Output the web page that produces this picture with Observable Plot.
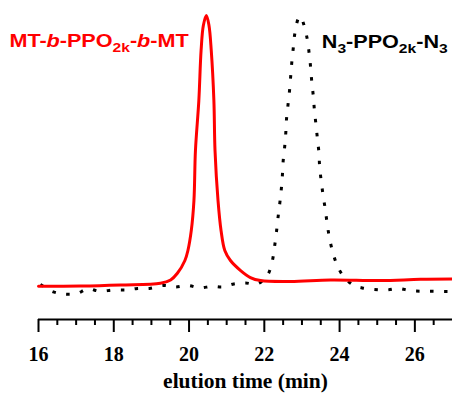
<!DOCTYPE html>
<html>
<head>
<meta charset="utf-8">
<script src="https://cdn.jsdelivr.net/npm/d3@7"></script>
<script src="https://cdn.jsdelivr.net/npm/@observablehq/plot@0.6"></script>
<style>
  html, body { margin: 0; padding: 0; background: #fff; }
</style>
</head>
<body>
<div id="chart"></div>
<script>
// elution time (min) and normalized detector response (0 = axis line, 100 = peak)
const redTime = [16.00, 17.12, 18.18, 19.24, 19.51, 19.69, 19.89, 19.97, 20.06, 20.13, 20.17, 20.26, 20.32, 20.38, 20.46, 20.53, 20.59, 20.66, 20.69, 20.77, 20.85, 20.95, 21.10, 21.37, 21.63, 21.90, 22.70, 23.76, 25.09, 26.15, 27.00];
const redSignal = [10.9, 11.0, 11.35, 11.9, 13.0, 15.2, 19.4, 22.7, 29.3, 39.1, 55.6, 72.0, 88.5, 96.7, 100, 96.7, 88.5, 72.0, 55.6, 39.1, 29.3, 22.7, 19.4, 16.1, 13.8, 12.8, 12.5, 13.0, 12.8, 13.2, 13.3];

const blackTime = [16.05, 16.37, 16.67, 17.03, 17.30, 17.63, 17.99, 18.36, 18.63, 18.95, 19.33, 19.63, 19.97, 20.28, 20.61, 20.90, 21.19, 21.50, 21.81, 22.08, 22.21, 22.27, 22.32, 22.36, 22.41, 22.45, 22.48, 22.50, 22.54, 22.57, 22.59, 22.63, 22.67, 22.70, 22.73, 22.77, 22.81, 22.90, 22.96, 23.05, 23.14, 23.19, 23.23, 23.26, 23.30, 23.33, 23.37, 23.41, 23.45, 23.47, 23.51, 23.56, 23.62, 23.67, 23.73, 23.82, 23.95, 24.14, 24.40, 24.64, 24.93, 25.25, 25.57, 25.88, 26.18, 26.47, 26.79, 27.00];
const blackSignal = [11.5, 9.2, 8.4, 8.55, 10.1, 9.3, 9.7, 9.7, 10.2, 10.2, 11.2, 10.7, 11.2, 10.4, 10.9, 10.7, 11.7, 12.0, 11.7, 14.5, 19.1, 23.8, 28.5, 33.1, 38.1, 42.7, 47.4, 52.0, 56.7, 61.3, 66.0, 70.7, 75.3, 79.9, 84.6, 89.4, 94.0, 98.9, 99.7, 97.0, 92.3, 87.7, 83.0, 78.3, 73.7, 69.0, 64.4, 59.6, 55.0, 50.3, 45.7, 41.0, 36.2, 31.5, 26.9, 22.1, 17.4, 13.6, 11.1, 10.3, 9.9, 9.7, 10.2, 9.5, 9.3, 9.3, 9.2, 9.2];

const majorTicks = [16, 18, 20, 22, 24, 26];
const minorTicks = [16.5, 17, 17.5, 18.5, 19, 19.5, 20.5, 21, 21.5, 22.5, 23, 23.5, 24.5, 25, 25.5, 26.5];
const xLabel = "elution time (min)";

const redData = redTime.map((t, i) => ({t, s: redSignal[i]}));
const blackData = blackTime.map((t, i) => ({t, s: blackSignal[i]}));

const plot = Plot.plot({
  width: 452,
  height: 394,
  marginLeft: 38,
  marginRight: 0,
  marginTop: 15,
  marginBottom: 75,
  x: {domain: [16, 27]},
  y: {domain: [0, 100], axis: null},
  marks: [
    Plot.ruleY([0], {strokeWidth: 2, stroke: "#000"}),
    Plot.axisX({ticks: minorTicks, tickSize: 6, text: null, label: null, strokeWidth: 2}),
    Plot.axisX({ticks: majorTicks, tickSize: 13, tickPadding: 14, strokeWidth: 2, label: null,
      tickFormat: d => String(d), fontSize: 20, fontWeight: "bold", fontFamily: "Liberation Serif, Times New Roman, serif"}),
    Plot.text([xLabel], {frameAnchor: "bottom", dy: 68, lineAnchor: "bottom", text: d => d,
      fontSize: 21.5, fontWeight: "bold", fontFamily: "Liberation Serif, Times New Roman, serif", fill: "#000"}),
    Plot.line(blackData, {x: "t", y: "s", stroke: "#000", strokeWidth: 3, strokeDasharray: "3.5,10.5", strokeLinecap: "butt", curve: "catmull-rom"}),
    Plot.line(redData, {x: "t", y: "s", stroke: "#ff0000", strokeWidth: 3, curve: "catmull-rom"})
  ]
});

document.getElementById("chart").appendChild(plot);

// Series labels with subscripts
const labels = [
  {x: 15.24, y: 89.4, color: "#ff0000", parts: [
    {t: "MT-"}, {t: "b", italic: true}, {t: "-PPO"}, {t: "2k", sub: true}, {t: "-"}, {t: "b", italic: true}, {t: "-MT"}]},
  {x: 23.54, y: 89.0, color: "#000000", parts: [
    {t: "N"}, {t: "3", sub: true}, {t: "-PPO"}, {t: "2k", sub: true}, {t: "-N"}, {t: "3", sub: true}]}
];
const sx = plot.scale("x"), sy = plot.scale("y");
const svg = d3.select(plot);
for (const L of labels) {
  const g = svg.append("g")
    .attr("transform", `translate(${sx.apply(L.x)},${sy.apply(L.y)}) scale(1.2,1)`);
  const text = g.append("text")
    .attr("text-anchor", "start")
    .attr("fill", L.color)
    .attr("font-family", "Liberation Sans, Arial, sans-serif")
    .attr("font-weight", "bold")
    .attr("font-size", 18);
  let shifted = false;
  for (const p of L.parts) {
    const ts = text.append("tspan").text(p.t);
    if (p.italic) ts.attr("font-style", "italic");
    if (p.sub) { ts.attr("font-size", 13).attr("dy", shifted ? 0 : 5); shifted = true; }
    else if (shifted) { ts.attr("dy", -5); shifted = false; }
  }
}
</script>
</body>
</html>
